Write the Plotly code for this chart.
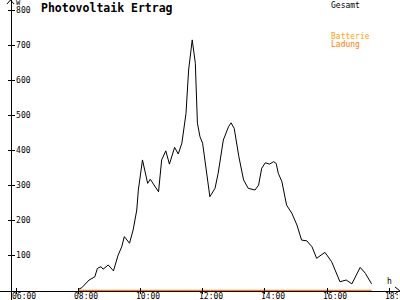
import plotly.graph_objects as go

# ---- data ----
times = ["08:00", "08:07", "08:21", "08:32", "08:37", "08:44", "08:48", "08:58",
         "09:08", "09:17", "09:24", "09:29", "09:39", "09:46", "09:53", "09:56",
         "10:04", "10:14", "10:19", "10:35", "10:41", "10:49", "10:56", "11:06",
         "11:13", "11:20", "11:28", "11:33", "11:40", "11:46", "11:50", "11:55",
         "12:00", "12:05", "12:14", "12:24", "12:30", "12:40", "12:50", "12:55",
         "13:01", "13:10", "13:19", "13:28", "13:41", "13:48", "13:54", "14:01",
         "14:09", "14:17", "14:22", "14:26", "14:33", "14:42", "14:52", "15:02",
         "15:11", "15:21", "15:31", "15:40", "15:56", "16:09", "16:25", "16:37",
         "16:48", "17:04", "17:14", "17:26"]
gesamt = [3, 8, 30, 39, 63, 68, 61, 73,
          56, 101, 125, 154, 135, 173, 230, 287,
          373, 306, 318, 282, 373, 399, 361, 409,
          390, 421, 506, 630, 716, 649, 478, 439,
          421, 363, 268, 292, 335, 430, 468, 479,
          463, 382, 316, 292, 287, 301, 349, 365,
          361, 368, 363, 335, 311, 244, 221, 187,
          144, 142, 125, 92, 109, 82, 25, 30,
          19, 66, 49, 19]
batt_times = ["08:00", "17:26"]
batterie = [0, 0]

x_tickvals = [6, 8, 10, 12, 14, 16, 18]
x_ticktext = ["06:00", "08:00", "10:00", "12:00", "14:00", "16:00", "18:00"]
y_tickvals = [100, 200, 300, 400, 500, 600, 700, 800]

title = "Photovoltaik Ertrag"


def to_h(s):
    h, m = s.split(":")
    return int(h) + int(m) / 60.0


W, H = 400, 300
X_RANGE = [6 - 16 / 31.1, 6 + 384 / 31.1]
Y_RANGE = [-9.5 / 0.35, 290.5 / 0.35]
XPOS = 1 - 290.5 / H
XPOS2 = 1 - 293.5 / H
YPOS = 10.5 / W


def pp(x, y):
    return x / W, 1 - y / H


FONT = "DejaVu Sans Mono"

fig = go.Figure()
fig.add_trace(go.Scatter(x=[to_h(t) for t in times], y=gesamt, mode="lines",
                         line=dict(color="black", width=1), name="Gesamt"))
fig.add_trace(go.Scatter(x=[to_h(t) for t in batt_times], y=batterie, mode="lines",
                         line=dict(color="#FF8000", width=1.5), name="Batterie Ladung",
                         xaxis="x2", yaxis="y2"))

tickfont = dict(family=FONT, size=8, color="black")
fig.update_layout(
    width=W, height=H, margin=dict(l=0, r=0, t=0, b=0, autoexpand=False),
    showlegend=False, plot_bgcolor="white", paper_bgcolor="white",
    xaxis=dict(range=X_RANGE, anchor="free", position=XPOS, side="bottom",
               showline=True, linecolor="black", linewidth=1,
               ticks="", tickvals=x_tickvals, showticklabels=False,
               automargin=False, showgrid=False, zeroline=False),
    xaxis2=dict(overlaying="x", matches="x", anchor="free", position=XPOS2, side="top",
                showline=False, ticks="outside", ticklen=6, tickwidth=1, tickcolor="black",
                tickvals=x_tickvals, showticklabels=False, showgrid=False, zeroline=False,
                automargin=False),
    yaxis=dict(range=Y_RANGE, anchor="free", position=YPOS, side="right",
               showline=True, linecolor="black", linewidth=1,
               ticks="outside", ticklen=3, tickwidth=1, tickcolor="black",
               tickvals=y_tickvals, tickfont=tickfont, ticklabeloverflow="allow",
               automargin=False, showgrid=False, zeroline=False),
    yaxis2=dict(overlaying="y", matches="y", anchor="free", position=YPOS, side="left",
                showline=False, ticks="outside", ticklen=3, tickwidth=1, tickcolor="black",
                tickvals=y_tickvals, showticklabels=False, showgrid=False, zeroline=False,
                automargin=False),
)

# x tick labels placed on the x scale
for tv, tt in zip(x_tickvals, x_ticktext):
    fig.add_annotation(text=tt, x=tv, xref="x", y=1 - 296 / H, yref="paper",
                       xanchor="center", yanchor="middle", xshift=8, showarrow=False,
                       font=tickfont)

# axis arrows
ya = [pp(7, 4), pp(10.5, 0), pp(14, 4)]
xa = [pp(395, 287), pp(399.5, 290.5), pp(395, 294)]
for pts in (ya, xa):
    path = "M {} {} L {} {} L {} {}".format(pts[0][0], pts[0][1], pts[1][0], pts[1][1],
                                             pts[2][0], pts[2][1])
    fig.add_shape(type="path", path=path, xref="paper", yref="paper",
                  line=dict(color="black", width=1))


def ann(text, x, y, size=8, color="black", bold=False, xanchor="left"):
    px, py = pp(x, y)
    fig.add_annotation(text=("<b>%s</b>" % text) if bold else text, x=px, y=py,
                       xref="paper", yref="paper", xanchor=xanchor, yanchor="middle",
                       showarrow=False, font=dict(family=FONT, size=size, color=color))


ann(title, 39, 7.5, size=11.5, bold=True)
ann("W", 14, 3, size=7)
ann("h", 385, 281, color="#000000")
ann("Gesamt", 329, 5)
ann("Batterie", 329, 36, color="#FFA500")
ann("Ladung", 329, 44, color="#FF8000")

fig.write_html("out.html")
